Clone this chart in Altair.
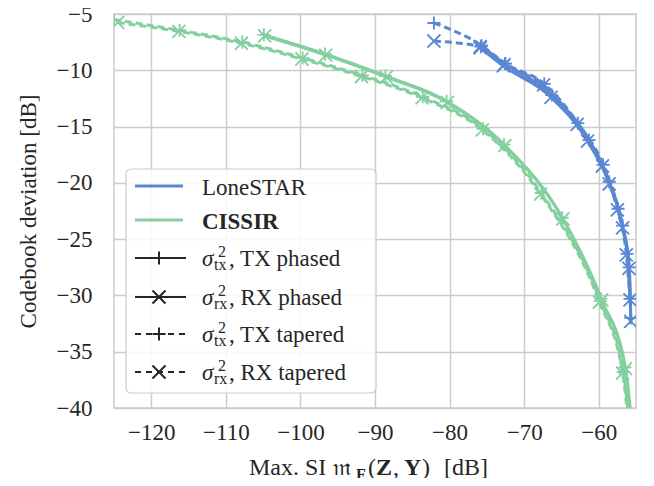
import altair as alt
import pandas as pd

BLUE = "#5a87d2"
GREEN = "#84cfa0"
INK = "#262626"
FONT = "Liberation Serif"

# ---------------- data ----------------
# LoneSTAR
ls_tx_tap_x = [-82.1, -75.7, -72.5, -67.3, -62.8, -59.4, -57.4, -56.2, -55.8]
ls_tx_tap_y = [-5.8, -7.8, -9.4, -11.2, -14.7, -18.4, -22.3, -26.3, -30.3]
ls_rx_tap_x = [-82.1, -75.9, -72.7, -67.4, -62.9, -59.5, -57.5, -56.3, -55.8]
ls_rx_tap_y = [-7.4, -7.9, -9.5, -11.3, -14.8, -18.5, -22.4, -26.4, -30.4]
ls_tx_ph_x = [-75.8, -72.6, -66.3, -61.3, -58.6, -56.8, -55.9, -55.7]
ls_tx_ph_y = [-7.9, -9.4, -12.2, -16.2, -19.9, -23.8, -27.5, -32.0]
ls_rx_ph_x = [-75.9, -72.8, -66.4, -61.5, -58.6, -56.8, -55.95, -55.7]
ls_rx_ph_y = [-8.0, -9.6, -12.4, -16.3, -20.1, -24.0, -27.6, -32.3]

# CISSIR
ci_tx_tap_x = [-125.0, -116.2, -107.8, -99.7, -91.7, -83.6, -75.5, -67.7, -59.8, -56.7, -55.8]
ci_tx_tap_y = [-5.5, -6.45, -7.5, -8.9, -10.45, -12.35, -15.2, -20.9, -30.5, -36.8, -42.0]
ci_rx_tap_x = [-124.5, -116.3, -107.9, -99.8, -91.8, -83.7, -75.6, -67.8, -59.9, -56.8, -55.9]
ci_rx_tap_y = [-5.75, -6.55, -7.6, -9.0, -10.55, -12.45, -15.3, -21.0, -30.6, -36.9, -42.0]
ci_tx_ph_x = [-104.9, -96.7, -88.6, -80.4, -72.7, -64.9, -59.7, -56.5, -55.6]
ci_tx_ph_y = [-6.85, -8.55, -10.5, -12.75, -16.6, -23.1, -30.3, -36.4, -42.0]
ci_rx_ph_x = [-104.8, -96.6, -88.5, -80.3, -72.6, -64.8, -59.6, -56.4, -55.5]
ci_rx_ph_y = [-6.95, -8.65, -10.6, -12.85, -16.7, -23.2, -30.4, -36.5, -42.0]

x_ticks = [-120, -110, -100, -90, -80, -70, -60]
y_ticks = [-40, -35, -30, -25, -20, -15, -10, -5]

rows = []


def add(method, ant, taper, xs, ys):
    for i, (a, b) in enumerate(zip(xs, ys)):
        rows.append(dict(method=method, ant=ant, taper=taper,
                         series=f"{method}-{ant}-{taper}", x=a, y=b, o=i))


add("CISSIR", "TX", "tapered", ci_tx_tap_x, ci_tx_tap_y)
add("CISSIR", "RX", "tapered", ci_rx_tap_x, ci_rx_tap_y)
add("CISSIR", "TX", "phased", ci_tx_ph_x, ci_tx_ph_y)
add("CISSIR", "RX", "phased", ci_rx_ph_x, ci_rx_ph_y)
add("LoneSTAR", "TX", "tapered", ls_tx_tap_x, ls_tx_tap_y)
add("LoneSTAR", "RX", "tapered", ls_rx_tap_x, ls_rx_tap_y)
add("LoneSTAR", "TX", "phased", ls_tx_ph_x, ls_tx_ph_y)
add("LoneSTAR", "RX", "phased", ls_rx_ph_x, ls_rx_ph_y)
df = pd.DataFrame(rows)

PLUS = "M-1,0L1,0M0,-1L0,1"
XSYM = "M-1,-1L1,1M-1,1L1,-1"

X = alt.X("x:Q", scale=alt.Scale(domain=[-125, -55], nice=False, zero=False),
          axis=alt.Axis(values=x_ticks, title=None, labelPadding=13))
Y = alt.Y("y:Q", scale=alt.Scale(domain=[-40, -5], nice=False, zero=False),
          axis=alt.Axis(values=y_ticks, title="Codebook deviation [dB]",
                        labelPadding=22, titlePadding=16))
color = alt.Color("method:N", scale=alt.Scale(domain=["LoneSTAR", "CISSIR"],
                                              range=[BLUE, GREEN]), legend=None)
dash = alt.StrokeDash("taper:N", scale=alt.Scale(domain=["phased", "tapered"],
                                                 range=[[1, 0], [7, 4]]), legend=None)
shape = alt.Shape("ant:N", scale=alt.Scale(domain=["TX", "RX"], range=[PLUS, XSYM]),
                  legend=None)

base = alt.Chart(df)
lines = base.mark_line(strokeWidth=3, interpolate="monotone", clip=True).encode(
    x=X, y=Y, color=color, strokeDash=dash, detail="series:N", order="o:Q")
points = base.mark_point(filled=False, strokeWidth=1.8, size=170, clip=True,
                         opacity=1).encode(x=X, y=Y, color=color, shape=shape)

one = pd.DataFrame({"a": [0]})
layers = [lines, points]

# ---------------- legend (drawn by hand) ----------------
layers.append(alt.Chart(one).mark_rect(fill="white", fillOpacity=0.85, stroke="#cccccc",
                                       strokeWidth=1.2, cornerRadius=5).encode(
    x=alt.value(12), x2=alt.value(262), y=alt.value(155), y2=alt.value(379)))

leg_rows = [172, 206, 244, 283, 320, 358]
LX0, LX1, LXM, TX0 = 21, 69, 45, 88
LFS = 23


def text(t, x, y, size=LFS, weight="normal", style="normal", align="left"):
    return alt.Chart(one).mark_text(text=t, align=align, baseline="alphabetic", font=FONT,
                                    fontSize=size, fontWeight=weight, fontStyle=style,
                                    color=INK).encode(x=alt.value(x), y=alt.value(y))


for r, col, lab, w in [(leg_rows[0], BLUE, "LoneSTAR", "normal"),
                       (leg_rows[1], GREEN, "CISSIR", "bold")]:
    layers.append(alt.Chart(one).mark_rule(strokeWidth=3, color=col).encode(
        x=alt.value(LX0), x2=alt.value(LX1), y=alt.value(r)))
    layers.append(text(lab, TX0, r + 9, weight=w))

entries = [("tx", "TX phased", PLUS, False), ("rx", "RX phased", XSYM, False),
           ("tx", "TX tapered", PLUS, True), ("rx", "RX tapered", XSYM, True)]
for r, (sub, lab, sym, dashed) in zip(leg_rows[2:], entries):
    rule = alt.Chart(one).mark_rule(strokeWidth=2, color=INK,
                                    strokeDash=[6, 5] if dashed else [1, 0]).encode(
        x=alt.value(LX0), x2=alt.value(LX1 + 3), y=alt.value(r))
    layers.append(rule)
    layers.append(alt.Chart(one).mark_point(shape=sym, filled=False, size=170,
                                            strokeWidth=2, color=INK, opacity=1).encode(
        x=alt.value(LXM), y=alt.value(r)))
    layers.append(text("σ", TX0, r + 8, style="italic"))
    layers.append(text("2", TX0 + 16, r - 1, size=16))
    layers.append(text(sub, TX0 + 12, r + 12, size=16))
    layers.append(text(", " + lab, TX0 + 27, r + 8))

# ---------------- x axis title (with sub-script) ----------------
TB = 461
layers += [
    text("Max. SI", 135, TB, size=24),
    text("𝔪", 219, TB, size=24),
    text("F", 242, TB + 5, size=16, weight="bold"),
    text("(", 254, TB, size=24),
    text("Z", 262, TB, size=24, weight="bold"),
    text(",", 279, TB, size=24),
    text("Y", 290, TB, size=24, weight="bold"),
    text(")", 308, TB, size=24),
    text("[dB]", 330, TB, size=24),
]

chart = alt.layer(*layers).properties(
    width=522, height=394,
    autosize=alt.AutoSizeParams(type="none"),
    padding={"left": 106, "top": 6, "right": 10, "bottom": 70},
).configure_view(stroke="#cccccc", strokeWidth=1.5).configure_axis(
    grid=True, gridColor="#cccccc", gridWidth=1.5, domain=False, ticks=False,
    labelFont=FONT, labelFontSize=23, labelColor=INK,
    titleFont=FONT, titleFontSize=23, titleFontWeight="normal", titleColor=INK)

chart.save("out.html", embed_options={"renderer": "svg", "actions": False})
